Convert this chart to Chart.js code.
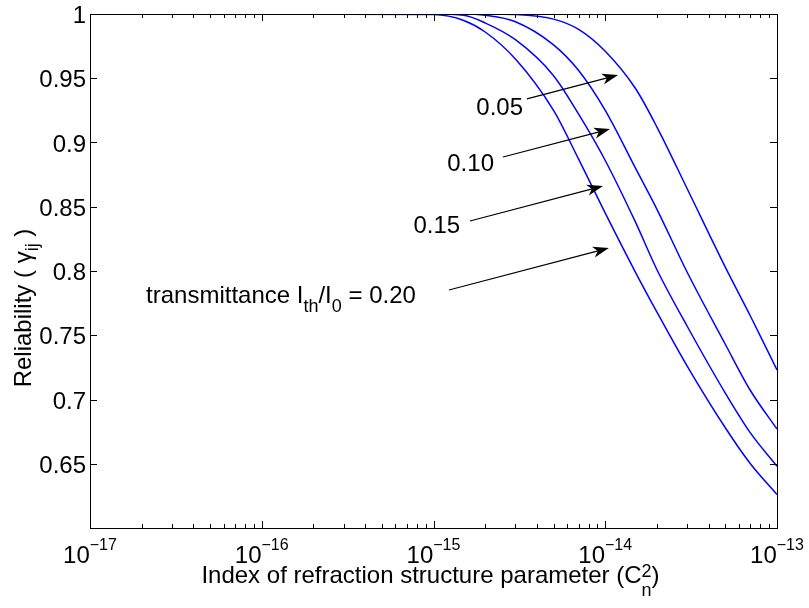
<!DOCTYPE html>
<html>
<head>
<meta charset="utf-8">
<script src="https://cdn.jsdelivr.net/npm/chart.js@4.4.1/dist/chart.umd.min.js"></script>
<style>
  html, body { margin: 0; padding: 0; background: #fff; }
  #chart { display: block; }
</style>
</head>
<body>
<canvas id="chart" width="809" height="608"></canvas>
<script>
// Cn^2 sample positions (x axis, log scale)
const cn2Values = [1e-17, 1e-16, 1e-15, 1.5e-15, 2e-15, 3e-15, 5e-15, 7e-15, 1e-14, 1.5e-14, 2e-14, 3e-14, 5e-14, 7e-14, 1e-13];

// reliability, one list per transmittance threshold
const relT005 = [1, 1, 1, 1, 1, 0.9996, 0.996, 0.988, 0.971, 0.942, 0.912, 0.864, 0.803, 0.765, 0.723];
const relT010 = [1, 1, 1, 1, 0.999, 0.994, 0.976, 0.956, 0.925, 0.880, 0.848, 0.799, 0.743, 0.707, 0.677];
const relT015 = [1, 1, 1, 0.999, 0.993, 0.980, 0.952, 0.922, 0.886, 0.838, 0.801, 0.757, 0.705, 0.674, 0.648];
const relT020 = [1, 1, 0.9996, 0.995, 0.986, 0.965, 0.925, 0.887, 0.845, 0.799, 0.768, 0.726, 0.678, 0.650, 0.626];

// tick labels
const xTickExps = [-17, -16, -15, -14, -13];
const yTickValues = [0.65, 0.7, 0.75, 0.8, 0.85, 0.9, 0.95, 1];
const yTickLabels = ["0.65", "0.7", "0.75", "0.8", "0.85", "0.9", "0.95", "1"];

// arrow annotations: label, label anchor, arrow start, arrow tip (data coords)
const arrowLabels = ["0.05", "0.10", "0.15", "0.20"];
const arrowLabelAt = [[3.32e-15, 0.9214], [2.25e-15, 0.8778], [1.43e-15, 0.8296], [2.12e-17, 0.7751]];
const arrowFrom = [[3.50e-15, 0.9339], [2.54e-15, 0.8887], [1.63e-15, 0.8389], [1.23e-15, 0.7852]];
const arrowTo = [[1.187e-14, 0.9525], [1.066e-14, 0.9105], [9.70e-15, 0.8661], [1.05e-14, 0.8179]];

const FONT = '"Liberation Sans", Arial, Helvetica, sans-serif';
const f = px => px + "px " + FONT;

const toPoints = arr => cn2Values.map((x, i) => ({ x: x, y: arr[i] }));

function curve(arr) {
  return {
    data: toPoints(arr),
    borderColor: "#0000ff",
    borderWidth: 1.5,
    pointRadius: 0,
    fill: false,
    cubicInterpolationMode: "monotone"
  };
}

function drawArrow(ctx, x0, y0, x1, y1) {
  const ang = Math.atan2(y1 - y0, x1 - x0);
  const len = 16, half = 5.5;
  const c = Math.cos(ang), s = Math.sin(ang);
  ctx.beginPath();
  ctx.moveTo(x0, y0);
  ctx.lineTo(x1 - c * len * 0.7, y1 - s * len * 0.7);
  ctx.stroke();
  const bx = x1 - c * len, by = y1 - s * len;
  const nx = -s * half, ny = c * half;
  ctx.beginPath();
  ctx.moveTo(x1, y1);
  ctx.lineTo(bx + nx, by + ny);
  ctx.lineTo(x1 - c * len * 0.72, y1 - s * len * 0.72);
  ctx.lineTo(bx - nx, by - ny);
  ctx.closePath();
  ctx.fill();
}

// pieces: [text, fontPx, baselineShift]
function drawPieces(ctx, pieces, x, y) {
  let cx = x;
  pieces.forEach(p => {
    ctx.font = f(p[1]);
    ctx.fillText(p[0], cx, y + p[2]);
    cx += ctx.measureText(p[0]).width;
  });
  return cx;
}
function piecesWidth(ctx, pieces) {
  let w = 0;
  pieces.forEach(p => { ctx.font = f(p[1]); w += ctx.measureText(p[0]).width; });
  return w;
}

const matlabAxes = {
  id: "matlabAxes",
  beforeDraw(chart) {
    const ctx = chart.ctx;
    ctx.save();
    ctx.fillStyle = "#fff";
    ctx.fillRect(0, 0, chart.width, chart.height);
    ctx.restore();
  },
  afterDraw(chart) {
    const ctx = chart.ctx;
    const { left, right, top, bottom } = chart.chartArea;
    const xs = chart.scales.x, ys = chart.scales.y;

    ctx.save();
    ctx.strokeStyle = "#000";
    ctx.fillStyle = "#000";
    ctx.lineWidth = 1;

    // box
    ctx.strokeRect(left + 0.5, top + 0.5, right - left, bottom - top);

    // y ticks (inward, both sides)
    ctx.beginPath();
    yTickValues.forEach(v => {
      const y = Math.round(ys.getPixelForValue(v)) + 0.5;
      ctx.moveTo(left, y); ctx.lineTo(left + 7, y);
      ctx.moveTo(right, y); ctx.lineTo(right - 7, y);
    });
    // x ticks, decades + minor
    xTickExps.forEach(e => {
      for (let m = 1; m <= 9; m++) {
        const v = m * Math.pow(10, e);
        if (v > xs.max * 1.0001) break;
        const x = Math.round(xs.getPixelForValue(v)) + 0.5;
        const len = m === 1 ? 7 : 4;
        ctx.moveTo(x, bottom); ctx.lineTo(x, bottom - len);
        ctx.moveTo(x, top); ctx.lineTo(x, top + len);
      }
    });
    ctx.stroke();

    // y tick labels
    ctx.textAlign = "right";
    ctx.textBaseline = "alphabetic";
    ctx.font = f(24);
    yTickValues.forEach((v, i) => {
      ctx.fillText(yTickLabels[i], left - 4, ys.getPixelForValue(v) + 9);
    });

    // x tick labels 10^e
    ctx.textAlign = "left";
    xTickExps.forEach(e => {
      const X = xs.getPixelForValue(Math.pow(10, e));
      const pieces = [["10", 24, 0], ["\u2212" + Math.abs(e), 16, -13]];
      const w = piecesWidth(ctx, pieces);
      drawPieces(ctx, pieces, X - w / 2, bottom + 35);
    });

    // x title with C_n^2
    const head = [["Index of refraction structure parameter (C", 24, 0]];
    ctx.font = f(18);
    const stackW = Math.max(ctx.measureText("2").width, ctx.measureText("n").width);
    const tail = [[")", 24, 0]];
    const totalW = piecesWidth(ctx, head) + stackW + piecesWidth(ctx, tail);
    const tx = (left + right) / 2 - 3 - totalW / 2;
    const tb = bottom + 55;
    let cx = drawPieces(ctx, head, tx, tb);
    ctx.font = f(18);
    ctx.fillText("2", cx, tb - 6);
    ctx.fillText("n", cx, tb + 13);
    drawPieces(ctx, tail, cx + stackW, tb);

    // y title, rotated
    const yPieces = [["Reliability ( ", 24, 0], ["\u03b3", 24, 0], ["ij", 18, 7], [" )", 24, 0]];
    const yw = piecesWidth(ctx, yPieces);
    ctx.save();
    ctx.translate(left - 59, (top + bottom) / 2 + 37 + yw / 2);
    ctx.rotate(-Math.PI / 2);
    drawPieces(ctx, yPieces, 0, 0);
    ctx.restore();

    // arrows + labels
    ctx.lineWidth = 1.2;
    arrowLabels.forEach((lab, i) => {
      const x0 = xs.getPixelForValue(arrowFrom[i][0]), y0 = ys.getPixelForValue(arrowFrom[i][1]);
      const x1 = xs.getPixelForValue(arrowTo[i][0]), y1 = ys.getPixelForValue(arrowTo[i][1]);
      drawArrow(ctx, x0, y0, x1, y1);
      const lx = xs.getPixelForValue(arrowLabelAt[i][0]);
      const ly = ys.getPixelForValue(arrowLabelAt[i][1]);
      if (i < 3) {
        ctx.textAlign = "right";
        ctx.font = f(24);
        ctx.fillText(lab, lx, ly);
      } else {
        ctx.textAlign = "left";
        drawPieces(ctx, [["transmittance I", 24, 0], ["th", 18, 9], ["/I", 24, 0], ["0", 18, 9], [" = " + lab, 24, 0]], lx, ly);
      }
    });

    ctx.restore();
  }
};

new Chart(document.getElementById("chart"), {
  type: "line",
  data: {
    datasets: [curve(relT005), curve(relT010), curve(relT015), curve(relT020)]
  },
  options: {
    responsive: false,
    devicePixelRatio: 1,
    animation: false,
    layout: { padding: { left: 90, right: 32, top: 14, bottom: 80 } },
    plugins: { legend: { display: false }, tooltip: { enabled: false } },
    scales: {
      x: { type: "logarithmic", min: 1e-17, max: 1e-13, display: false },
      y: { type: "linear", min: 0.6, max: 1, display: false }
    }
  },
  plugins: [matlabAxes]
});
</script>
</body>
</html>
